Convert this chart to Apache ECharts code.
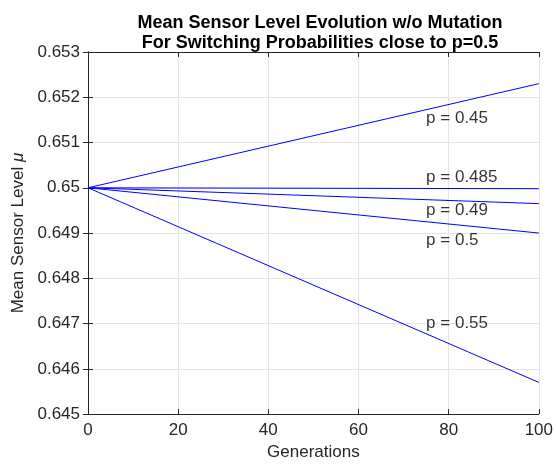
<!DOCTYPE html>
<html>
<head>
<meta charset="utf-8">
<script src="https://cdn.jsdelivr.net/npm/echarts@6/dist/echarts.min.js"></script>
<style>html,body{margin:0;padding:0;background:#fff}#c{width:556px;height:466px}</style>
</head>
<body>
<div id="c"></div>
<script>
const generations = [0, 100];
const seriesNames = ['p = 0.45', 'p = 0.485', 'p = 0.49', 'p = 0.5', 'p = 0.55'];
const seriesValues = [
  [0.65, 0.6523],
  [0.65, 0.64998],
  [0.65, 0.64965],
  [0.65, 0.649],
  [0.65, 0.6457]
];
const labelX = [75, 75, 75, 75, 75];
const labelY = [0.65154, 0.65024, 0.6495, 0.64885, 0.647];
const yTicks = [0.645, 0.646, 0.647, 0.648, 0.649, 0.65, 0.651, 0.652, 0.653];
const xTicks = [0, 20, 40, 60, 80, 100];

const font = 'Liberation Sans, Arial, Helvetica, sans-serif';
const axisColor = '#262626';
const chart = echarts.init(document.getElementById('c'), null, {renderer: 'canvas'});

const lineSeries = seriesValues.map((vals, i) => ({
  type: 'line',
  name: seriesNames[i],
  xAxisIndex: 0, yAxisIndex: 0,
  data: generations.map((g, j) => [g, vals[j]]),
  showSymbol: false,
  symbol: 'none',
  lineStyle: {color: '#0000ff', width: 1},
  silent: true,
  animation: false
}));

const labelSeries = {
  type: 'scatter',
  xAxisIndex: 0, yAxisIndex: 0,
  symbolSize: 0,
  data: seriesNames.map((n, i) => ({name: n, value: [labelX[i], labelY[i]]})),
  label: {
    show: true, position: 'right', distance: 0,
    formatter: p => p.name,
    color: '#000', fontFamily: font, fontSize: 17
  },
  silent: true,
  animation: false
};

const common = {
  axisLine: {show: true, lineStyle: {color: axisColor, width: 1}},
  axisTick: {show: true, inside: true, length: 5, lineStyle: {color: axisColor}},
};

chart.setOption({
  animation: false,
  backgroundColor: '#fff',
  title: {
    text: 'Mean Sensor Level Evolution w/o Mutation\nFor Switching Probabilities close to p=0.5',
    left: 315, textAlign: 'center', top: 8,
    textStyle: {fontFamily: font, fontSize: 18, fontWeight: 'bold', color: '#000', lineHeight: 20}
  },
  grid: {left: 88, right: 13, top: 52, bottom: 46, containLabel: false},
  xAxis: [
    Object.assign({
      type: 'value', min: 0, max: 100, interval: 20, position: 'bottom',
      name: 'Generations', nameLocation: 'middle', nameGap: 27,
      nameTextStyle: {fontFamily: font, fontSize: 17, color: axisColor},
      axisLabel: {fontFamily: font, fontSize: 17, color: axisColor, margin: 8,
        customValues: xTicks},
      splitLine: {show: true, lineStyle: {color: '#e5e5e5', width: 1}}
    }, common),
    Object.assign({
      type: 'value', min: 0, max: 100, interval: 20, position: 'top',
      axisLabel: {show: false}, splitLine: {show: false}
    }, common)
  ],
  yAxis: [
    Object.assign({
      type: 'value', min: 0.645, max: 0.653, interval: 0.001, position: 'left',
      name: '{a|Mean Sensor Level }{b|μ}', nameLocation: 'middle', nameGap: 58,
      nameTextStyle: {fontFamily: font, fontSize: 17, color: axisColor,
        rich: {a: {fontFamily: font, fontSize: 17, color: axisColor},
               b: {fontFamily: font, fontSize: 17, color: axisColor, fontStyle: 'italic'}}},
      axisLabel: {fontFamily: font, fontSize: 17, color: axisColor, margin: 8,
        formatter: v => String(+v.toFixed(3))},
      splitLine: {show: true, lineStyle: {color: '#e5e5e5', width: 1}}
    }, common),
    Object.assign({
      type: 'value', min: 0.645, max: 0.653, interval: 0.001, position: 'right',
      axisLabel: {show: false}, splitLine: {show: false}
    }, common)
  ],
  series: lineSeries.concat([labelSeries])
});
</script>
</body>
</html>
